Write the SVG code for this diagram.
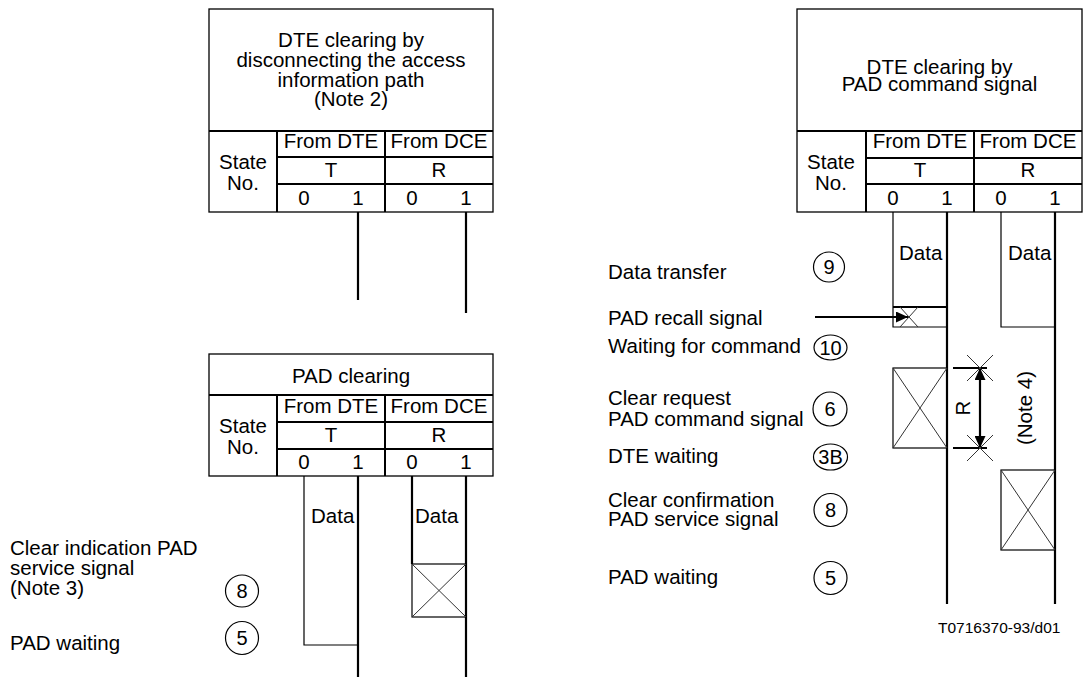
<svg xmlns="http://www.w3.org/2000/svg" width="1083" height="677" viewBox="0 0 1083 677">
<defs>
<style>
text{font-family:"Liberation Sans",Arial,sans-serif;font-size:20.5px;fill:#000}
.c{text-anchor:middle}
.n{font-size:20px;text-anchor:middle}
.small{font-size:15.5px}
.outer{fill:none;stroke:#000;stroke-width:1.3}
.in{stroke:#000;stroke-width:2;fill:none}
.thin{stroke:#000;stroke-width:1.2;fill:none}
.thick{stroke:#000;stroke-width:2.2;fill:none}
.xc{stroke:#333;stroke-width:1;fill:none}
.circ{fill:none;stroke:#000;stroke-width:1.2}
</style>
<marker id="ah" markerUnits="userSpaceOnUse" markerWidth="13" markerHeight="11" refX="12" refY="5.5" orient="auto-start-reverse">
<path d="M0,0 L12,5.5 L0,11 z" fill="#000"/>
</marker>
</defs>
<rect width="1083" height="677" fill="#fff"/>

<!-- Table: DTE clearing by disconnecting -->
<g id="table-dte-disconnect">
<rect class="outer" x="209" y="9" width="284" height="203"/>
<path class="in" d="M209,131 H493 M277,131 V212 M385,131 V212 M277,157 H493 M277,184 H493"/>
<text class="c" x="351" y="47">DTE clearing by</text>
<text class="c" x="351" y="67">disconnecting the access</text>
<text class="c" x="351" y="87">information path</text>
<text class="c" x="351" y="106">(Note 2)</text>
<text class="c" x="243" y="169">State</text>
<text class="c" x="243" y="190">No.</text>
<text class="c" x="331" y="148">From DTE</text>
<text class="c" x="439" y="148">From DCE</text>
<text class="c" x="331" y="177">T</text>
<text class="c" x="439" y="177">R</text>
<text class="c" x="304" y="205">0</text>
<text class="c" x="358" y="205">1</text>
<text class="c" x="412" y="205">0</text>
<text class="c" x="466" y="205">1</text>
</g>

<!-- Table: PAD clearing -->
<g id="table-pad-clearing">
<rect class="outer" x="209" y="354" width="284" height="122"/>
<path class="in" d="M209,395 H493 M277,395 V476 M385,395 V476 M277,422 H493 M277,449 H493"/>
<text class="c" x="351" y="383">PAD clearing</text>
<text class="c" x="243" y="433">State</text>
<text class="c" x="243" y="454">No.</text>
<text class="c" x="331" y="413">From DTE</text>
<text class="c" x="439" y="413">From DCE</text>
<text class="c" x="331" y="442">T</text>
<text class="c" x="439" y="442">R</text>
<text class="c" x="304" y="469">0</text>
<text class="c" x="358" y="469">1</text>
<text class="c" x="412" y="469">0</text>
<text class="c" x="466" y="469">1</text>
</g>

<!-- Table: DTE clearing by PAD command signal -->
<g id="table-dte-pad-command">
<rect class="outer" x="797" y="9" width="285" height="203"/>
<path class="in" d="M797,131 H1082 M866,131 V212 M974,131 V212 M866,158 H1082 M866,184 H1082"/>
<text class="c" x="939.5" y="74">DTE clearing by</text>
<text class="c" x="939.5" y="91">PAD command signal</text>
<text class="c" x="831" y="169">State</text>
<text class="c" x="831" y="190">No.</text>
<text class="c" x="920" y="148">From DTE</text>
<text class="c" x="1028" y="148">From DCE</text>
<text class="c" x="920" y="177">T</text>
<text class="c" x="1028" y="177">R</text>
<text class="c" x="893" y="205">0</text>
<text class="c" x="947" y="205">1</text>
<text class="c" x="1001" y="205">0</text>
<text class="c" x="1055" y="205">1</text>
</g>

<!-- Left state labels -->
<g id="left-states">
<text x="10" y="555">Clear indication PAD</text>
<text x="10" y="575">service signal</text>
<text x="10" y="595">(Note 3)</text>
<text x="10" y="650">PAD waiting</text>
<ellipse class="circ" cx="242" cy="591" rx="16.5" ry="16"/>
<text class="n" x="242" y="598">8</text>
<ellipse class="circ" cx="242" cy="638" rx="16.5" ry="16.5"/>
<text class="n" x="242" y="645">5</text>
</g>

<!-- Right state labels -->
<g id="right-states">
<text x="608" y="279">Data transfer</text>
<text x="608" y="325">PAD recall signal</text>
<text x="608" y="353">Waiting for command</text>
<text x="608" y="405">Clear request</text>
<text x="608" y="426">PAD command signal</text>
<text x="608" y="463">DTE waiting</text>
<text x="608" y="507">Clear confirmation</text>
<text x="608" y="526">PAD service signal</text>
<text x="608" y="584">PAD waiting</text>
<ellipse class="circ" cx="829" cy="267" rx="15.5" ry="15"/>
<text class="n" x="829" y="274">9</text>
<ellipse class="circ" cx="830.5" cy="347.5" rx="16.5" ry="12.5"/>
<text class="n" x="830.5" y="354.5">10</text>
<ellipse class="circ" cx="830" cy="409" rx="17" ry="17"/>
<text class="n" x="830" y="416">6</text>
<ellipse class="circ" cx="830.5" cy="457" rx="17" ry="13"/>
<text class="n" x="830.5" y="464">3B</text>
<ellipse class="circ" cx="830.5" cy="510" rx="16.5" ry="16.5"/>
<text class="n" x="830.5" y="517">8</text>
<ellipse class="circ" cx="830.5" cy="578" rx="16.5" ry="16.5"/>
<text class="n" x="830.5" y="585">5</text>
</g>

<!-- Signal lines / connectors -->
<g id="connectors">
<!-- top-left table -->
<path class="thick" d="M358,212 V300 M466,212 V313"/>
<!-- PAD clearing -->
<path class="thin" d="M304,476 V645 H358"/>
<path class="thick" d="M358,476 V677 M466,476 V677 M412,476 V564"/>
<rect class="thin" x="412" y="564" width="54" height="53"/>
<path class="xc" d="M412,564 L466,617 M466,564 L412,617"/>
<text x="311" y="523">Data</text>
<text x="415" y="523">Data</text>
<!-- DTE clearing by PAD command -->
<path class="thin" d="M893,212 V327 H947 M1001,212 V327 H1055"/>
<path class="thick" d="M893,307 H947"/>
<path class="xc" d="M900,307 L918,327 M918,307 L900,327"/>
<path class="thick" d="M815,317 H908" marker-end="url(#ah)"/>
<path class="thick" d="M947,212 V604 M1055,212 V604"/>
<text x="899" y="260">Data</text>
<text x="1008" y="260">Data</text>
<rect class="thin" x="893" y="368" width="54" height="80"/>
<path class="xc" d="M893,368 L947,448 M947,368 L893,448"/>
<rect class="thin" x="1001" y="470" width="54" height="80"/>
<path class="xc" d="M1001,470 L1055,550 M1055,470 L1001,550"/>
<path class="thick" d="M953,368 H987 M953,448 H987"/>
<path class="thick" d="M980,368 V448" marker-start="url(#ah)" marker-end="url(#ah)"/>
<path class="xc" d="M967,355 L993,381 M993,355 L967,381 M967,435 L993,461 M993,435 L967,461"/>
<text class="c" transform="translate(970,408) rotate(-90)">R</text>
<text class="c" transform="translate(1032,408) rotate(-90)">(Note 4)</text>
</g>

<text class="small" x="938" y="633">T0716370-93/d01</text>
</svg>
